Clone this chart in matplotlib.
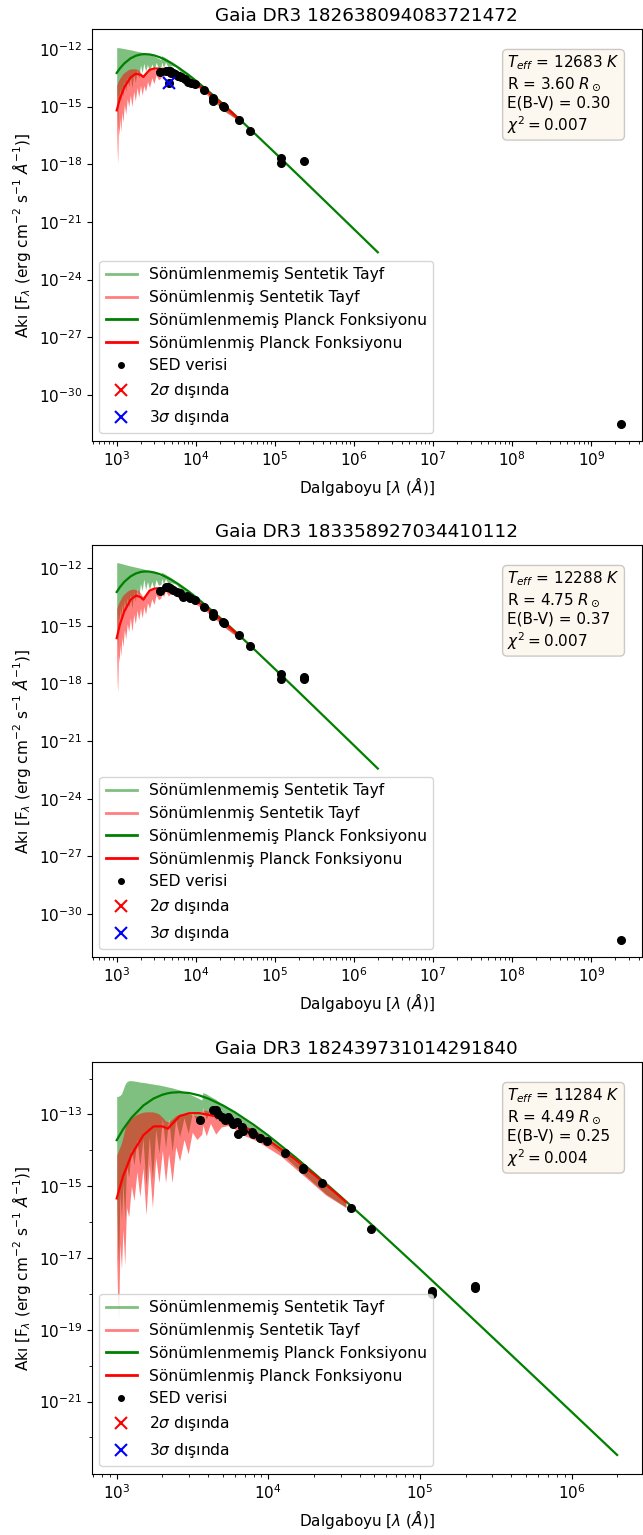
import numpy as np
import matplotlib
matplotlib.use("Agg")
import matplotlib.pyplot as plt
from matplotlib.lines import Line2D
from matplotlib.ticker import FixedLocator, NullFormatter

plt.rcParams['font.size'] = 11

# ---------------- titles / parameters ----------------
titles = ["Gaia DR3 182638094083721472",
          "Gaia DR3 183358927034410112",
          "Gaia DR3 182439731014291840"]
teff = [12683, 12288, 11284]
radius = [3.60, 4.75, 4.49]
ebv = [0.30, 0.37, 0.25]
chi2 = [0.007, 0.007, 0.004]

# ---------------- synthetic spectra (log10 flux) ----------------
wl_spec = [1000, 1015, 1030, 1050, 1075, 1100, 1130, 1160, 1200, 1250, 1300, 1360, 1420,
           1490, 1560, 1640, 1720, 1810, 1900, 2000, 2100, 2200, 2320, 2450, 2600, 2780,
           2960, 3150, 3380, 3640, 3700, 3900, 4150, 4500, 4900, 5600, 6600, 8500, 12000,
           17000, 24000, 32500]

g1_top = [-11.93, -11.93, -11.93, -11.93, -11.94, -11.94, -11.95, -11.96, -11.97, -11.98, -12.00,
          -12.01, -12.03, -12.04, -12.06, -12.08, -12.10, -12.12, -12.14, -12.16, -12.18, -12.20,
          -12.23, -12.26, -12.29, -12.33, -12.38, -12.43, -12.49, -12.56, -12.35, -12.40, -12.47,
          -12.56, -12.66, -12.88, -13.11, -13.44, -13.95, -14.48, -15.03, -15.53]
g1_bot = [-14.25, -15.42, -16.15, -14.27, -14.85, -14.03, -14.81, -13.89, -14.48, -13.66, -14.22,
          -13.50, -13.96, -13.40, -14.03, -13.26, -13.76, -13.06, -13.53, -12.84, -13.25, -12.74,
          -13.16, -12.80, -13.20, -12.77, -13.12, -12.70, -12.99, -12.92, -12.68, -12.95, -12.68,
          -12.97, -12.86, -12.93, -13.25, -13.55, -14.04, -14.69, -15.26, -15.63]
r1_top = [-13.88, -13.81, -13.73, -13.66, -13.59, -13.51, -13.44, -13.37, -13.29, -13.22, -13.18,
          -13.11, -13.07, -13.04, -13.03, -13.03, -13.04, -13.06, -13.11, -13.22, -13.33, -13.36,
          -13.27, -13.16, -13.09, -13.06, -13.06, -13.08, -13.10, -13.14, -12.92, -12.95, -13.00,
          -13.04, -13.10, -13.25, -13.41, -13.65, -14.06, -14.54, -15.07, -15.55]
r1_bot = [-16.2, -17.3, -17.95, -16.0, -16.5, -15.6, -16.3, -15.3, -15.8, -14.9, -15.4,
          -14.6, -15.0, -14.4, -15.0, -14.2, -14.7, -14.0, -14.5, -13.9, -14.4, -13.9,
          -14.2, -13.7, -14.0, -13.5, -13.8, -13.35, -13.6, -13.5, -13.25, -13.5, -13.2,
          -13.45, -13.3, -13.3, -13.55, -13.75, -14.15, -14.75, -15.3, -15.65]

g2_top = [-11.72, -11.72, -11.72, -11.73, -11.74, -11.75, -11.76, -11.77, -11.79, -11.81, -11.83,
          -11.85, -11.87, -11.89, -11.91, -11.93, -11.95, -11.97, -11.99, -12.01, -12.03, -12.05,
          -12.08, -12.11, -12.14, -12.19, -12.24, -12.29, -12.35, -12.42, -12.22, -12.27, -12.33,
          -12.42, -12.52, -12.76, -12.98, -13.31, -13.81, -14.34, -14.89, -15.39]
g2_bot = [-14.20, -15.58, -16.28, -14.37, -14.87, -14.06, -14.77, -13.86, -14.47, -13.67, -14.25,
          -13.55, -14.02, -13.37, -14.11, -13.24, -13.74, -13.04, -13.51, -12.80, -13.18, -12.57,
          -13.12, -12.69, -13.11, -12.70, -13.06, -12.60, -12.90, -12.83, -12.54, -12.82, -12.55,
          -12.85, -12.76, -12.84, -13.13, -13.45, -13.96, -14.52, -15.10, -15.52]
r2_top = [-14.12, -14.04, -13.95, -13.86, -13.77, -13.69, -13.60, -13.51, -13.42, -13.34, -13.28,
          -13.20, -13.16, -13.12, -13.10, -13.10, -13.11, -13.13, -13.18, -13.31, -13.45, -13.48,
          -13.37, -13.22, -13.13, -13.09, -13.08, -13.09, -13.10, -13.14, -12.93, -12.95, -12.98,
          -13.02, -13.06, -13.22, -13.35, -13.56, -13.95, -14.42, -14.94, -15.42]
r2_bot = [-16.6, -17.9, -18.5, -16.5, -16.9, -16.0, -16.6, -15.6, -16.1, -15.2, -15.7,
          -14.9, -15.3, -14.6, -15.3, -14.4, -14.9, -14.2, -14.7, -14.1, -14.6, -14.0,
          -14.4, -13.8, -14.1, -13.6, -13.9, -13.4, -13.65, -13.55, -13.25, -13.5, -13.2,
          -13.45, -13.3, -13.3, -13.5, -13.7, -14.1, -14.6, -15.15, -15.55]

g3_top = [-12.50, -12.50, -12.49, -12.47, -12.43, -12.32, -12.18, -12.10, -12.06, -12.06, -12.07,
          -12.08, -12.10, -12.11, -12.12, -12.14, -12.15, -12.17, -12.18, -12.20, -12.22, -12.24,
          -12.26, -12.29, -12.32, -12.37, -12.42, -12.47, -12.53, -12.60, -12.39, -12.43, -12.50,
          -12.58, -12.70, -12.87, -13.08, -13.40, -13.89, -14.41, -14.96, -15.45]
g3_bot = [-15.38, -16.63, -17.24, -15.16, -15.93, -14.89, -15.96, -14.43, -14.75, -13.96, -14.42,
          -13.69, -14.43, -13.67, -14.99, -13.61, -14.82, -13.42, -14.09, -13.12, -13.94, -13.13,
          -14.03, -13.15, -13.63, -13.09, -13.53, -12.96, -13.19, -13.07, -12.82, -13.14, -12.81,
          -13.15, -12.98, -12.99, -13.30, -13.58, -14.06, -14.65, -15.22, -15.58]
r3_top = [-14.12, -14.07, -13.99, -13.91, -13.80, -13.63, -13.42, -13.28, -13.16, -13.10, -13.05,
          -13.00, -12.97, -12.94, -12.93, -12.93, -12.93, -12.95, -12.99, -13.08, -13.18, -13.21,
          -13.13, -13.04, -12.99, -12.98, -12.99, -13.01, -13.04, -13.08, -12.87, -12.89, -12.94,
          -12.98, -13.07, -13.18, -13.33, -13.57, -13.98, -14.46, -14.99, -15.47]
r3_bot = [-17.0, -18.2, -18.74, -16.6, -17.3, -16.2, -17.2, -15.6, -15.85, -15.0, -15.4,
          -14.6, -15.3, -14.5, -15.8, -14.4, -15.6, -14.2, -14.9, -14.0, -14.9, -14.1,
          -14.9, -13.9, -14.3, -13.7, -14.1, -13.5, -13.7, -13.55, -13.3, -13.6, -13.25,
          -13.55, -13.35, -13.3, -13.55, -13.75, -14.15, -14.7, -15.25, -15.6]

# ---------------- Planck curves (log10 flux) ----------------
wl_planck = [1000, 1100, 1250, 1500, 1750, 2000, 2175, 2300, 2600, 3000, 3500, 4000, 5000,
             6000, 8000, 1e4, 1.5e4, 2e4, 3e4, 5e4, 1e5, 2e5, 5e5, 1e6, 2e6]
wl_planck_red = [1000, 1100, 1250, 1500, 1750, 2000, 2175, 2300, 2600, 3000, 3500, 4000, 5000,
                 6000, 8000, 1e4, 1.5e4, 2e4, 3e4, 32500]

p1_green = [-13.247, -13.006, -12.747, -12.484, -12.350, -12.287, -12.270, -12.268, -12.284,
            -12.338, -12.430, -12.536, -12.753, -12.961, -13.331, -13.644, -14.253, -14.708,
            -15.368, -16.221, -17.400, -18.591, -20.176, -21.377, -22.580]
p1_red = [-15.196, -14.575, -13.988, -13.475, -13.283, -13.345, -13.457, -13.332, -13.085,
          -13.014, -13.022, -13.081, -13.170, -13.298, -13.553, -13.794, -14.331, -14.757,
          -15.394, -15.526]
p2_green = [-13.245, -12.990, -12.713, -12.430, -12.280, -12.206, -12.184, -12.177, -12.186,
            -12.232, -12.317, -12.418, -12.628, -12.832, -13.196, -13.507, -14.113, -14.566,
            -15.225, -16.076, -17.254, -18.445, -20.030, -21.231, -22.434]
p2_red = [-15.648, -14.925, -14.244, -13.652, -13.430, -13.510, -13.648, -13.490, -13.174,
          -13.066, -13.047, -13.090, -13.143, -13.248, -13.470, -13.692, -14.209, -14.627,
          -15.257, -15.387]
p3_green = [-13.717, -13.420, -13.094, -12.751, -12.558, -12.452, -12.411, -12.394, -12.380,
            -12.404, -12.470, -12.555, -12.746, -12.938, -13.288, -13.590, -14.186, -14.634,
            -15.289, -16.137, -17.312, -18.502, -20.086, -21.287, -22.490]
p3_red = [-15.341, -14.727, -14.128, -13.577, -13.335, -13.333, -13.400, -13.281, -13.048,
          -12.968, -12.964, -13.009, -13.094, -13.219, -13.473, -13.715, -14.251, -14.675,
          -15.310, -15.440]

# ---------------- SED photometry (log10 flux) ----------------
sed1_wl = [3525, 4200, 4460, 4540, 4700, 4920, 5100, 5410, 5960, 6200, 6570, 7240, 7980, 8790,
           9680, 12700, 16500, 16600, 22100, 22700, 34800, 48000, 120800, 121000, 233000, 2.37e9]
sed1_flux = [-13.18, -13.12, -13.13, -13.75, -13.17, -13.23, -13.27, -13.32, -13.40, -13.43,
             -13.47, -13.58, -13.70, -13.75, -13.82, -14.13, -14.53, -14.69, -14.97, -15.03,
             -15.69, -16.25, -17.69, -17.95, -17.83, -31.51]
out2_1_wl, out2_1_flux = [], []
out3_1_wl, out3_1_flux = [4540], [-13.75]

sed2_wl = [3525, 4250, 4400, 4720, 5200, 5730, 6310, 6820, 7670, 8450, 9680, 12700, 16500,
           16600, 22100, 22700, 34800, 48000, 120800, 121000, 233000, 233000, 2.37e9]
sed2_flux = [-13.20, -12.97, -13.00, -13.02, -13.14, -13.23, -13.32, -13.49, -13.44, -13.55,
             -13.66, -14.01, -14.33, -14.48, -14.79, -14.88, -15.49, -16.04, -17.50, -17.79,
             -17.67, -17.79, -31.35]
out2_2_wl, out2_2_flux = [], []
out3_2_wl, out3_2_flux = [], []

sed3_wl = [3560, 4300, 4520, 4680, 4930, 5180, 5450, 5590, 5880, 6190, 6340, 6680, 6850, 7780,
           7970, 8810, 9750, 12800, 16900, 17000, 22500, 35000, 47600, 120000, 120000, 230000,
           230000]
sed3_flux = [-13.17, -12.89, -12.89, -12.98, -13.08, -13.15, -13.06, -13.17, -13.26, -13.22,
             -13.56, -13.36, -13.45, -13.50, -13.56, -13.65, -13.75, -14.07, -14.49, -14.52,
             -14.92, -15.60, -16.19, -17.93, -18.00, -17.78, -17.84]
out2_3_wl, out2_3_flux = [], []
out3_3_wl, out3_3_flux = [], []

# y tick decades (exponents) of the lowest panel
yticks3_major = [-21, -19, -17, -15, -13]
yticks3_minor = [-22, -20, -18, -16, -14, -12]

# ---------------- layout ----------------
W, H = 643, 1535
fig = plt.figure(figsize=(W / 100, H / 100), dpi=100)
axes_px = [(91.7, 29, 642.0, 441), (91.7, 545, 642.0, 957), (91.7, 1062, 642.0, 1474)]
xlims = [(10 ** 2.684, 10 ** 9.641), (10 ** 2.684, 10 ** 9.641), (10 ** 2.835, 10 ** 6.465)]
ylims = [(10 ** -32.40, 10 ** -10.96), (10 ** -32.24, 10 ** -10.80), (10 ** -23.02, 10 ** -11.54)]

spectra = [(g1_top, g1_bot, r1_top, r1_bot), (g2_top, g2_bot, r2_top, r2_bot),
           (g3_top, g3_bot, r3_top, r3_bot)]
planck = [(p1_green, p1_red), (p2_green, p2_red), (p3_green, p3_red)]
seds = [(sed1_wl, sed1_flux, out2_1_wl, out2_1_flux, out3_1_wl, out3_1_flux),
        (sed2_wl, sed2_flux, out2_2_wl, out2_2_flux, out3_2_wl, out3_2_flux),
        (sed3_wl, sed3_flux, out2_3_wl, out2_3_flux, out3_3_wl, out3_3_flux)]

for i in range(3):
    l, t, r, b = axes_px[i]
    ax = fig.add_axes([l / W, 1 - b / H, (r - l) / W, (b - t) / H])
    gt, gb, rt, rb = spectra[i]
    ax.fill_between(wl_spec, 10 ** np.array(gb), 10 ** np.array(gt), color='green',
                    alpha=0.5, lw=0)
    ax.fill_between(wl_spec, 10 ** np.array(rb), 10 ** np.array(rt), color='red',
                    alpha=0.5, lw=0)
    pg, pr = planck[i]
    ax.plot(wl_planck, 10 ** np.array(pg), color='green', lw=1.6)
    ax.plot(wl_planck_red, 10 ** np.array(pr), color='red', lw=1.6)
    swl, sfl, o2w, o2f, o3w, o3f = seds[i]
    ax.plot(swl, 10 ** np.array(sfl), 'o', color='black', ms=5.5, ls='none')
    ax.plot(o2w, 10 ** np.array(o2f, dtype=float), 'x', color='red', ms=8, mew=1.5, ls='none')
    ax.plot(o3w, 10 ** np.array(o3f, dtype=float), 'x', color='blue', ms=8, mew=1.5, ls='none')

    ax.set_xscale('log')
    ax.set_yscale('log')
    ax.set_xlim(*xlims[i])
    ax.set_ylim(*ylims[i])
    if i == 2:
        ax.yaxis.set_major_locator(FixedLocator([10.0 ** e for e in yticks3_major]))
        ax.yaxis.set_minor_locator(FixedLocator([10.0 ** e for e in yticks3_minor]))
        ax.yaxis.set_minor_formatter(NullFormatter())
    ax.set_title(titles[i], fontsize=13.2)
    ax.set_xlabel(r"Dalgaboyu [$\lambda$ ($\AA$)]")
    ax.set_ylabel(r"Akı [F$_{\lambda}$ (erg cm$^{-2}$ s$^{-1}$ $\AA^{-1}$)]")

    txt = (r"$T_{eff}$ = %d $K$" % teff[i] + "\n" +
           r"R = %.2f $R_\odot$" % radius[i] + "\n" +
           "E(B-V) = %.2f" % ebv[i] + "\n" +
           r"$\chi^2 = %.3f$" % chi2[i])
    ax.text(0.755, 0.94, txt, transform=ax.transAxes, va='top', ha='left', fontsize=11,
            bbox=dict(boxstyle='round', facecolor='wheat', alpha=0.2))

    handles = [Line2D([], [], color='green', alpha=0.5, lw=2),
               Line2D([], [], color='red', alpha=0.5, lw=2),
               Line2D([], [], color='green', lw=2),
               Line2D([], [], color='red', lw=2),
               Line2D([], [], marker='o', color='black', ls='none', ms=4),
               Line2D([], [], marker='x', color='red', ls='none', ms=8, mew=1.5),
               Line2D([], [], marker='x', color='blue', ls='none', ms=8, mew=1.5)]
    labels = ["Sönümlenmemiş Sentetik Tayf", "Sönümlenmiş Sentetik Tayf",
              "Sönümlenmemiş Planck Fonksiyonu", "Sönümlenmiş Planck Fonksiyonu",
              "SED verisi", r"2$\sigma$ dışında", r"3$\sigma$ dışında"]
    ax.legend(handles, labels, loc='lower left', fontsize=11.2)

fig.savefig("out.png", dpi=100)
